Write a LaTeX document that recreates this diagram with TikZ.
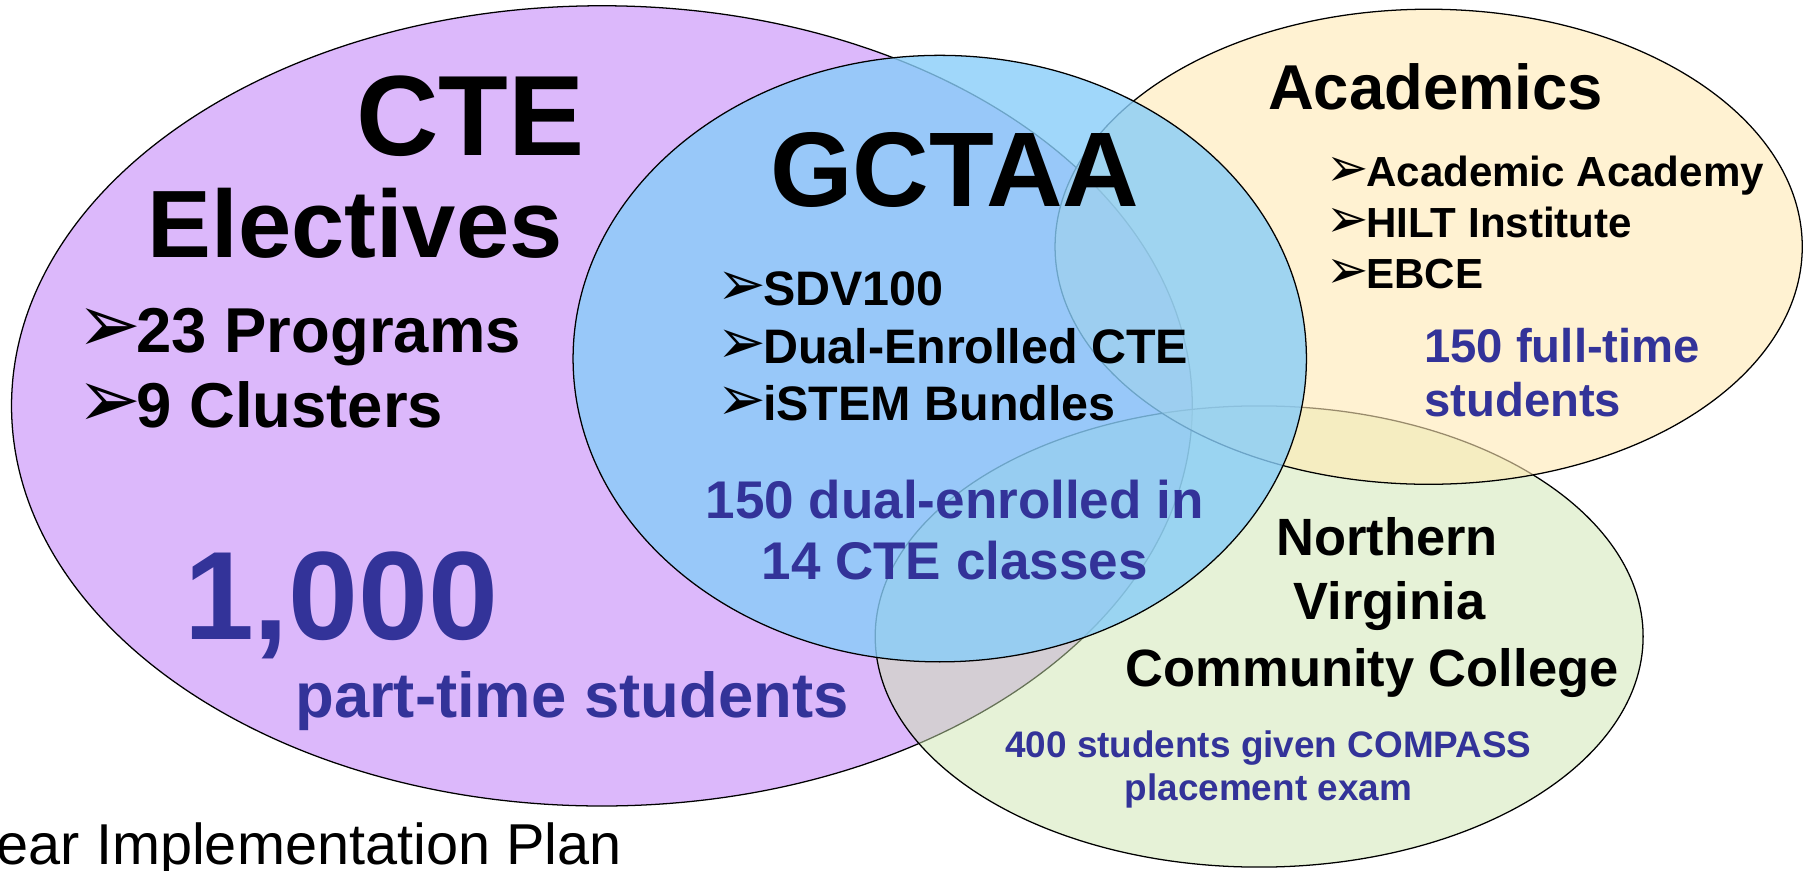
\documentclass[tikz,border=0pt]{standalone}
\usepackage{fontspec}
\usepackage{graphicx}
\setmainfont{Liberation Sans}
\newfontfamily\dingfont{DejaVu Sans}
\definecolor{ctepurple}{RGB}{220,184,251}
\definecolor{gctaablue}{RGB}{136,205,249}
\definecolor{acadyellow}{RGB}{255,233,180}
\definecolor{nvccgreen}{RGB}{205,229,175}
\definecolor{numblue}{RGB}{51,51,153}
\newcommand{\arrbul}{\kern-0.04em\scalebox{1.2}[1.3]{\dingfont\char"27A2}\kern-0.07em}
\newcommand{\fs}[1]{\fontsize{#1}{#1}\selectfont}
\tikzset{
  setshape/.style={draw=black,line width=1.1pt},
  bigtxt/.style={font=\bfseries\fs{#1},inner sep=0pt,anchor=base},
  bultxt/.style={font=\bfseries\fs{#1},inner sep=0pt,anchor=base west},
  numtxt/.style={bigtxt=#1,text=numblue}
}
\begin{document}
\begin{tikzpicture}[x=1pt,y=-1pt]
\useasboundingbox (0,0) rectangle (1568,755);
% the four sets
\draw[setshape,fill=ctepurple] (522,352) ellipse [x radius=512pt,y radius=347pt];
\draw[setshape,fill=nvccgreen,fill opacity=0.5] (1092,552) ellipse [x radius=333pt,y radius=200pt];
\draw[setshape,fill=acadyellow,fill opacity=0.6] (1239,214) ellipse [x radius=324pt,y radius=206pt];
\draw[setshape,fill=gctaablue,fill opacity=0.8] (815,311) ellipse [x radius=318pt,y radius=263pt];
% CTE
\node[bigtxt=99] (cte) at (408,135) {CTE};
\node[bigtxt=83] (elec) at (308,223) {Electives};
\foreach \t [count=\i] in {23 Programs,9 Clusters}
  \node[bultxt=55] (cte\i) at (69,241+65*\i) {\arrbul\t};
\node[numtxt=109] (thousand) at (296,555) {1,000};
\node[numtxt=55] (parttime) at (496,622) {part-time students};
% GCTAA
\node[bigtxt=92] (gctaa) at (828,179) {GCTAA};
\foreach \t [count=\i] in {SDV100,Dual-Enrolled CTE,iSTEM Bundles}
  \node[bultxt=42] (gc\i) at (624,215+50*\i) {\arrbul\t};
\node[numtxt=46] (dual) at (828,450) {150 dual-enrolled in};
\node[numtxt=46] (classes) at (828,503) {14 CTE classes};
% Academics
\node[bigtxt=55] (acad) at (1245,95) {Academics};
\foreach \t [count=\i] in {Academic Academy,HILT Institute,EBCE}
  \node[bultxt=36.5] (ac\i) at (1152,117+44.5*\i) {\arrbul\t};
\node[numtxt=41,anchor=base west] (full) at (1235,314) {150 full-time};
\node[numtxt=41,anchor=base west] (fullst) at (1235,361) {students};
% NVCC
\node[bigtxt=45.5] (north) at (1203,482) {Northern};
\node[bigtxt=45.5] (virg) at (1205,537) {Virginia};
\node[bigtxt=45.5] (comm) at (1190,595) {Community College};
\node[numtxt=32] (compass) at (1100,657) {400 students given COMPASS};
\node[numtxt=32] (exam) at (1100,694) {placement exam};
% caption
\node[font=\fs{50},inner sep=0pt,anchor=base west] (plan) at (-3,750) {ear Implementation Plan};
\end{tikzpicture}
\end{document}
